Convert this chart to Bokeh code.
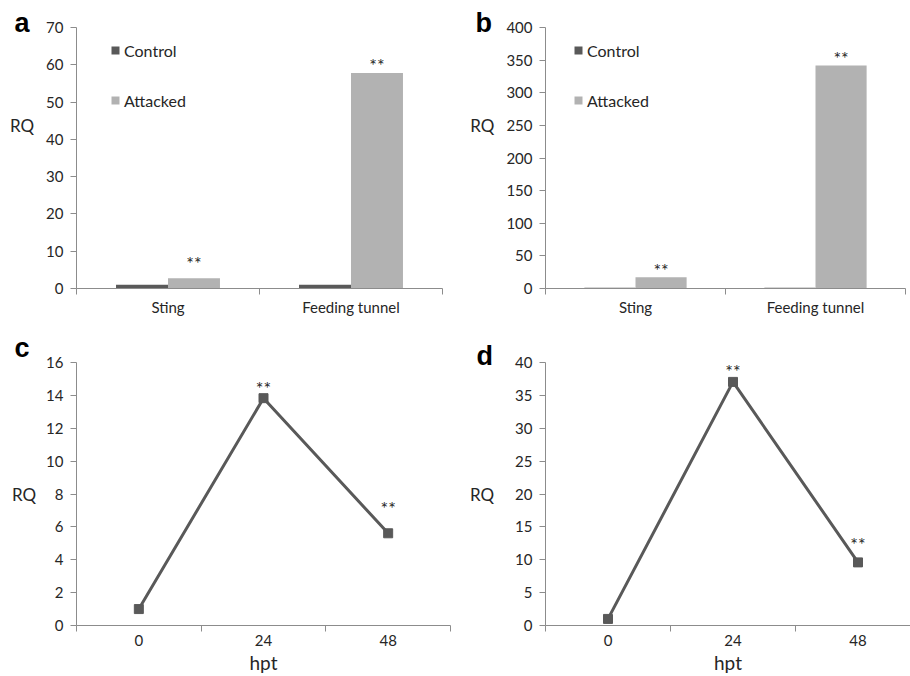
from bokeh.plotting import figure
from bokeh.models import (Range1d, ColumnDataSource, FixedTicker, SingleIntervalTicker,
                          Legend, LegendItem)
from bokeh.layouts import column, row
from bokeh.transform import dodge
from bokeh.core.properties import value
from bokeh.embed import file_html
from bokeh.resources import INLINE

# ---------------- data ----------------
tissues = ["Sting", "Feeding tunnel"]
a_control = [1.0, 1.0]
a_attacked = [2.75, 57.8]
b_control = [1.0, 1.0]
b_attacked = [17.4, 341.8]

hpt = ["0", "24", "48"]
c_rq = [1.0, 13.83, 5.61]
d_rq = [1.0, 37.05, 9.6]

FONT = "Lato"
AXIS = "#8c8c8c"
TXT = "#262626"
DARK = "#595959"
LIGHT = "#b2b2b2"


def base_fig(w, h, xr, yr, interval, bl, br, bt, bb, xlabels, letter, loff, lstand,
             rq_text, rq_standoff, rq_lh):
    p = figure(width=w, height=h, x_range=xr, y_range=yr, output_backend="svg",
               toolbar_location=None, min_border_left=bl, min_border_right=br,
               min_border_top=bt, min_border_bottom=bb, title=letter,
               title_location="above")
    p.title.text_font = "Liberation Sans"
    p.title.text_font_style = "bold"
    p.title.text_font_size = "27px"
    p.title.text_color = "black"
    p.title.align = "left"
    p.title.offset = loff
    p.title.standoff = lstand
    p.outline_line_color = None
    p.xgrid.visible = False
    p.ygrid.visible = False
    p.background_fill_color = "white"
    p.border_fill_color = "white"
    ya = p.yaxis[0]
    ya.ticker = SingleIntervalTicker(interval=interval)
    ya.axis_line_color = AXIS
    ya.major_tick_line_color = AXIS
    ya.major_tick_out = 6
    ya.major_tick_in = 0
    ya.minor_tick_line_color = None
    ya.major_label_text_font = FONT
    ya.major_label_text_font_size = "15px"
    ya.major_label_text_color = TXT
    ya.major_label_standoff = 7
    ya.axis_label = rq_text
    ya.axis_label_orientation = "horizontal"
    ya.axis_label_text_font = FONT
    ya.axis_label_text_font_size = "17px"
    ya.axis_label_text_font_style = "normal"
    ya.axis_label_text_color = TXT
    ya.axis_label_text_line_height = rq_lh
    ya.axis_label_standoff = rq_standoff
    n = len(xlabels)
    xa = p.xaxis[0]
    xa.ticker = FixedTicker(ticks=list(range(n)),
                            minor_ticks=[i - 0.5 for i in range(n + 1)])
    xa.major_label_overrides = {i: lab for i, lab in enumerate(xlabels)}
    xa.axis_line_color = AXIS
    xa.major_tick_line_color = None
    xa.major_tick_out = 0
    xa.major_tick_in = 0
    xa.minor_tick_line_color = AXIS
    xa.minor_tick_out = 6
    xa.minor_tick_in = 0
    xa.major_label_text_font = FONT
    xa.major_label_text_font_size = "15px"
    xa.major_label_text_color = TXT
    xa.major_label_standoff = 3
    return p


def bar_panel(w, h, control, attacked, ymax, interval, bl, br, bt, bb,
              letter, loff, lstand, rq_standoff, legend_loc, star_offsets):
    p = base_fig(w, h, Range1d(-0.5, 1.5), Range1d(0, ymax), interval, bl, br, bt, bb,
                 tissues, letter, loff, lstand, "RQ\n\n\n", rq_standoff, 1.03)
    src = ColumnDataSource(dict(x=list(range(len(tissues))), control=control,
                                attacked=attacked))
    r1 = p.vbar(x=dodge("x", -0.142, range=p.x_range), top="control", width=0.284,
                source=src, fill_color=DARK, line_color=None)
    r2 = p.vbar(x=dodge("x", 0.142, range=p.x_range), top="attacked", width=0.284,
                source=src, fill_color=LIGHT, line_color=None)
    for i in range(len(tissues)):
        s = ColumnDataSource(dict(x=[src.data["x"][i] + 0.142], y=[attacked[i]], t=["**"]))
        p.text(x="x", y="y", text="t", source=s, text_align="center",
               text_baseline="alphabetic", y_offset=star_offsets[i],
               text_font=value(FONT), text_font_size="18px", text_color=TXT)
    leg = Legend(items=[LegendItem(label="Control", renderers=[r1]),
                        LegendItem(label="Attacked", renderers=[r2])],
                 location=legend_loc, orientation="vertical",
                 glyph_width=10, glyph_height=10, label_standoff=4,
                 label_text_font=FONT, label_text_font_size="16px",
                 label_text_color=TXT, label_height=20, spacing=30,
                 padding=0, margin=0, border_line_color=None,
                 background_fill_alpha=0)
    p.add_layout(leg)
    return p


def line_panel(w, h, vals, xend, ymax, interval, bl, br, bt, bb, letter, loff, lstand,
               rq_standoff, star_offsets):
    p = base_fig(w, h, Range1d(-0.5, xend), Range1d(0, ymax), interval, bl, br, bt, bb,
                 hpt, letter, loff, lstand, "RQ", rq_standoff, 1.2)
    xa = p.xaxis[0]
    xa.axis_label = "hpt"
    xa.axis_label_text_font = FONT
    xa.axis_label_text_font_size = "19px"
    xa.axis_label_text_font_style = "normal"
    xa.axis_label_text_color = TXT
    xa.axis_label_standoff = 2
    src = ColumnDataSource(dict(x=list(range(len(hpt))), y=vals))
    p.line(x="x", y="y", source=src, line_color=DARK, line_width=3)
    p.scatter(x="x", y="y", source=src, marker="square", size=9,
              fill_color=DARK, line_color=DARK)
    for i in range(1, len(hpt)):
        s = ColumnDataSource(dict(x=[i], y=[vals[i]], t=["**"]))
        p.text(x="x", y="y", text="t", source=s, text_align="center",
               text_baseline="alphabetic", y_offset=star_offsets[i],
               text_font=value(FONT), text_font_size="18px", text_color=TXT)
    return p


pa = bar_panel(455, 320, a_control, a_attacked, 70, 10, 76, 13, 27, 32,
               "a", -62, -21, 9, (34, 178), [-15, -8])
pb = bar_panel(455, 320, b_control, b_attacked, 400, 50, 90, 5, 27, 32,
               "b", -70, -21, 9, (28, 178), [-7, -7])
pc = line_panel(455, 356, c_rq, 2.5, 16, 2, 76, 5, 42, 51,
                "c", -62, -1, 7, [0, -10, -25])
pd = line_panel(455, 356, d_rq, -0.5 + 365 / 125, 40, 5, 90, 0, 34, 51,
                "d", -69, -17, 18, [0, -11, -18])

layout = column(row(pa, pb, spacing=0), row(pc, pd, spacing=0), spacing=0)

open("out.html", "w").write(file_html(layout, INLINE))
